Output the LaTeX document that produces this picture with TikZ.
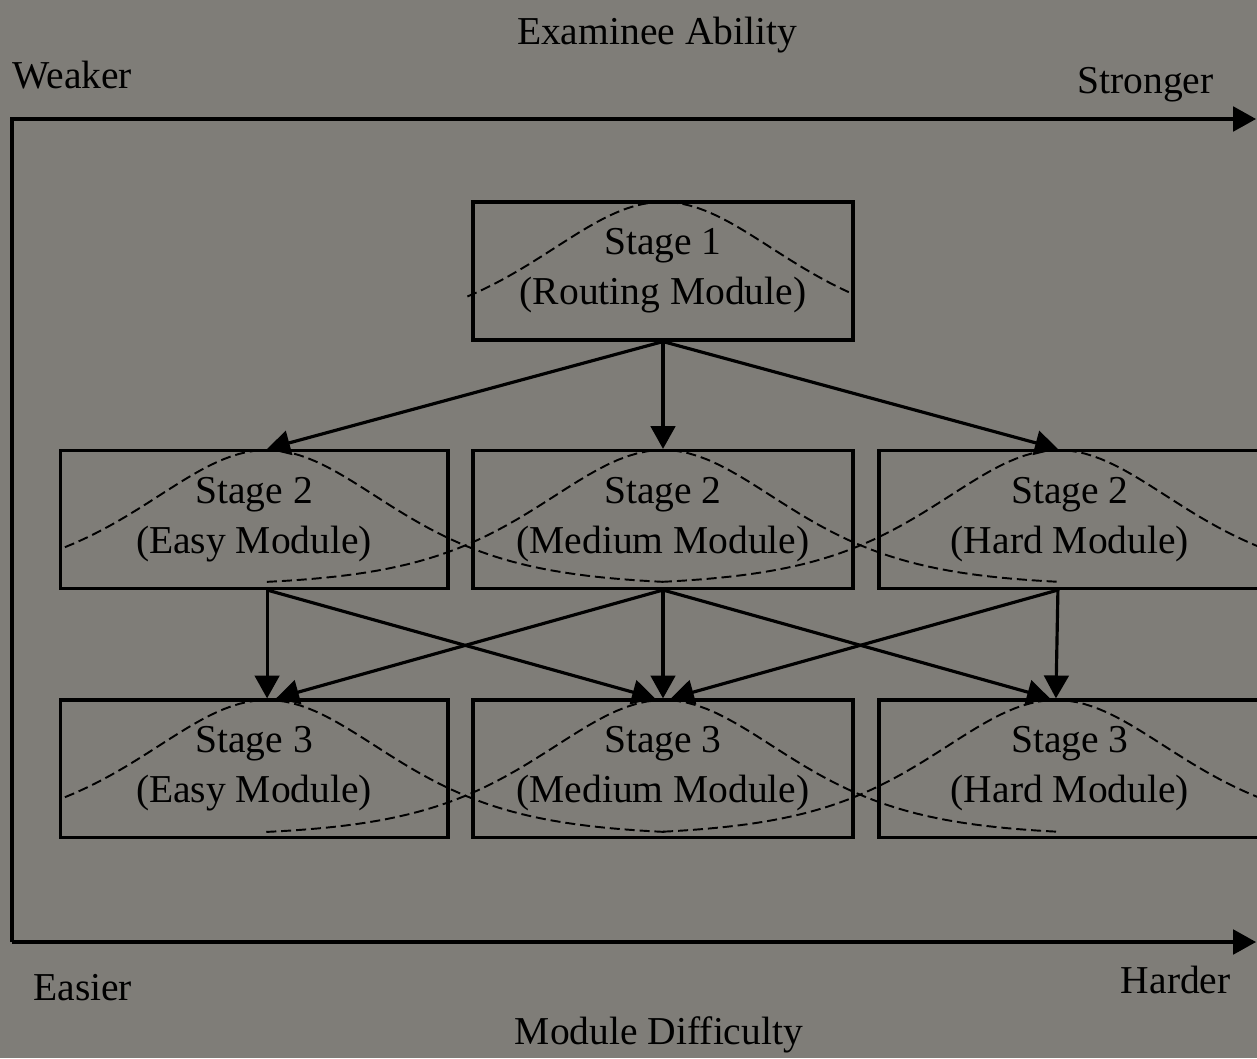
\documentclass[tikz,border=0pt]{standalone}
\usepackage{fontspec}
\setmainfont{Liberation Serif}
\usepackage{tikz}
\usetikzlibrary{arrows.meta}
\tikzset{%
      >={Triangle[width=14pt,length=13pt]},
}
\definecolor{scangray}{RGB}{127,125,120}
\tikzstyle{module} = [rectangle, draw, line width=1.8pt,
    text centered, align=center, minimum width=7.6cm, minimum height=2.76cm]
\tikzstyle{line} = [draw, ->, line width=1.8pt]
\tikzstyle{bell} = [draw, line width=1.1pt, dash pattern=on 5.7pt off 2.8pt, samples=80]
\tikzstyle{axislabel} = [inner sep=0pt]

\begin{document}
\begin{tikzpicture}[x=0.02cm, y=-0.02cm, node distance=4.97cm,
    every node/.style={font=\fontsize{22.5}{28.4}\selectfont}]
        \useasboundingbox (0,0) rectangle (1257,1058);
        \fill[scangray] (0,0) rectangle (1257,1058);

        % axes
        \coordinate (tl) at (12,119);
        \coordinate (tr) at (1256,119);
        \coordinate (bl) at (12,942);
        \coordinate (br) at (1256,942);
        \path [line] (bl) -- (tl) -- (tr);
        \path [line] (bl) -- (br);

        \node[axislabel, anchor=base] (ability) at (657,44) {Examinee Ability};
        \node[axislabel, anchor=base west] (weaker) at (12,88) {Weaker};
        \node[axislabel, anchor=base east] (stronger) at (1214,93) {Stronger};
        \node[axislabel, anchor=base west] (easier) at (33,1000) {Easier};
        \node[axislabel, anchor=base east] (harder) at (1231,993) {Harder};
        \node[axislabel, anchor=base] (difficulty) at (659,1044) {Module Difficulty};

        % modules
        \node[module] (s1) at (663,271) {Stage 1\\(Routing Module)};
        \node[module, below of=s1] (m2) {Stage 2\\(Medium Module)};
        \node[module, minimum width=7.76cm, left of=m2, node distance=8.18cm] (e2) {Stage 2\\(Easy Module)};
        \node[module, minimum width=7.64cm, right of=m2, node distance=8.14cm] (h2) {Stage 2\\(Hard Module)};
        \node[module, below of=m2, node distance=4.99cm] (m3) {Stage 3\\(Medium Module)};
        \node[module, minimum width=7.76cm, below of=e2, node distance=4.99cm] (e3) {Stage 3\\(Easy Module)};
        \node[module, minimum width=7.64cm, below of=h2, node distance=4.99cm] (h3) {Stage 3\\(Hard Module)};

        % ability distributions
        \draw[bell] plot[domain=-1.2:1.14] ({663+163*\x}, {202+136*tanh(\x)^2});
        \draw[bell] plot[domain=-1.24:2.43] ({267+163*\x}, {450+136*tanh(\x)^2});
        \draw[bell] plot[domain=-2.43:2.43] ({663+163*\x}, {450+136*tanh(\x)^2});
        \draw[bell] plot[domain=-2.43:1.3] ({1058+163*\x}, {450+136*tanh(\x)^2});
        \draw[bell] plot[domain=-1.24:2.44] ({267+163*\x}, {700+136*tanh(\x)^2});
        \draw[bell] plot[domain=-2.44:2.41] ({664+163*\x}, {700+136*tanh(\x)^2});
        \draw[bell] plot[domain=-2.41:1.3] ({1056+163*\x}, {700+136*tanh(\x)^2});

        % routing
        \path [line] (s1.south) -- ([xshift=0.26cm]e2.north);
        \path [line] (s1.south) -- (m2.north);
        \path [line] (s1.south) -- ([xshift=-0.24cm]h2.north);

        \path [line] ([xshift=0.26cm]e2.south) -- ([xshift=0.26cm]e3.north);
        \path [line] ([xshift=0.26cm]e2.south) -- ([xshift=-0.16cm]m3.north);
        \path [line] (m2.south) -- ([xshift=0.44cm]e3.north);
        \path [line] (m2.south) -- (m3.north);
        \path [line] (m2.south) -- ([xshift=-0.4cm]h3.north);
        \path [line] ([xshift=-0.24cm]h2.south) -- ([xshift=0.16cm]m3.north);
        \path [line] ([xshift=-0.24cm]h2.south) -- ([xshift=-0.28cm]h3.north);
\end{tikzpicture}
\end{document}
